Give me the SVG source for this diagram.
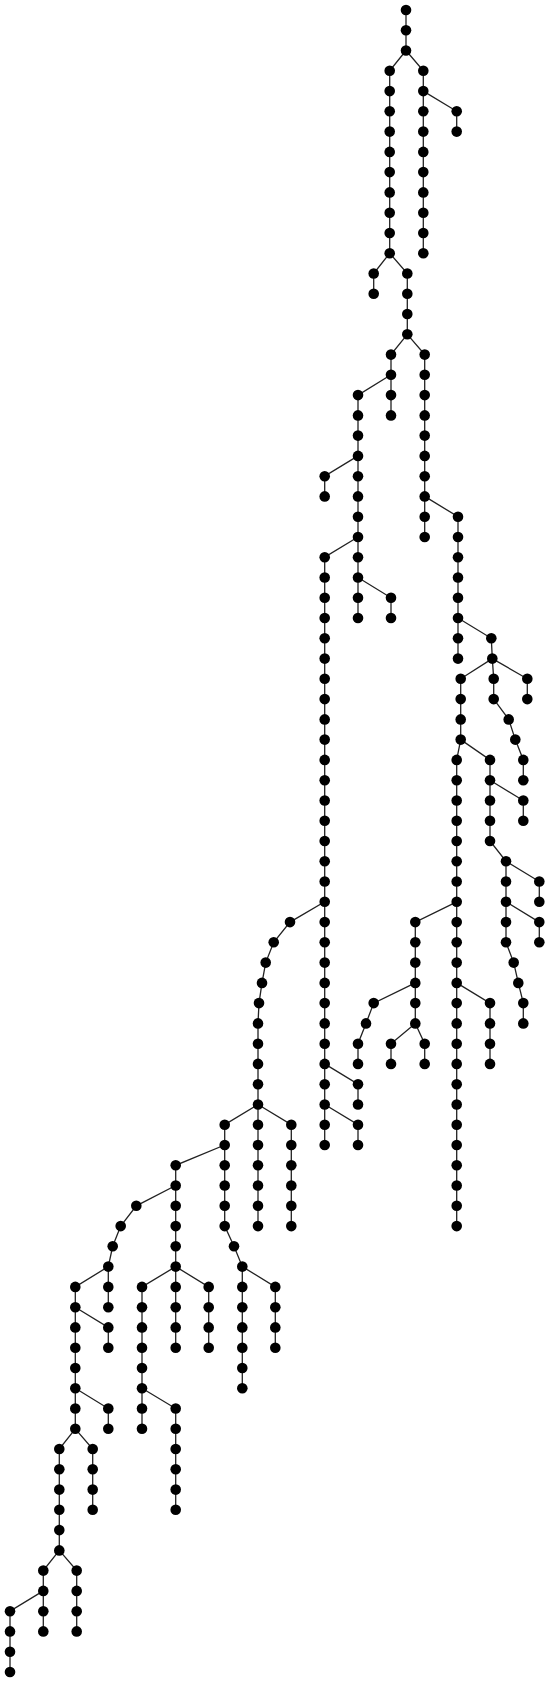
<svg xmlns="http://www.w3.org/2000/svg" width="550" height="1682" viewBox="0 0 550 1682">
<style>
.e path{fill:none;stroke:#222;stroke-width:1.3}
.n circle{fill:#000}
</style>
<rect width="550" height="1682" fill="#fff"/>
<g class="e" id="connectors">
<path d="M406 10 V50.5"/>
<path d="M406 50.5 L389.7 70.8 V253.2"/>
<path d="M406 50.5 L423.3 70.8 V253.2"/>
<path d="M423.3 91.1 L456.7 111.3 V131.6"/>
<path d="M389.7 253.2 L373.7 273.5 V293.8"/>
<path d="M389.7 253.2 L407.3 273.5 V334.3"/>
<path d="M407.3 334.3 L391 354.6 V415.4"/>
<path d="M391 374.8 L358 395.1 V618.0"/>
<path d="M358 455.9 L324.7 476.2 V496.4"/>
<path d="M358 537.0 L324.7 557.2 V1145.0"/>
<path d="M358 577.5 L391 597.8 V618.0"/>
<path d="M407.3 334.3 L424.7 354.6 V537.0"/>
<path d="M424.7 496.4 L458 516.7 V658.6"/>
<path d="M458 618.0 L491.3 638.3 L492.3 658.6"/>
<path d="M492.3 658.6 L527.3 678.8 V699.1"/>
<path d="M492.3 658.6 L493.7 678.8 L493.7 699.1 L508.7 719.4 L515.3 739.6 L523.3 759.9 V780.2"/>
<path d="M492.3 658.6 L460.7 678.8 V739.6"/>
<path d="M460.7 739.6 L456.7 759.9 V1226.1"/>
<path d="M460.7 739.6 L490 759.9 V841.0 L506 861.3 V942.3 L513.7 962.6 L518.3 982.9 L523.3 1003.1 V1023.4"/>
<path d="M490 780.2 L523.3 800.5 V820.7"/>
<path d="M506 861.3 L539.3 881.5 V901.8"/>
<path d="M506 901.8 L539.3 922.1 V942.3"/>
<path d="M456.7 901.8 L415.3 922.1 V1023.4"/>
<path d="M456.7 982.9 L490 1003.1 V1063.9"/>
<path d="M415.3 982.9 L373.7 1003.1 L366 1023.4 L358 1043.7 V1063.9"/>
<path d="M415.3 1023.4 L391 1043.7 V1063.9"/>
<path d="M415.3 1023.4 L424.7 1043.7 V1063.9"/>
<path d="M324.7 1063.9 L358 1084.2 V1104.5"/>
<path d="M324.7 1104.5 L358 1124.7 V1145.0"/>
<path d="M324.7 901.8 L290 922.1 L273.7 942.3 L265.7 962.6 L262 982.9 L259 1003.1 L258 1023.4 V1104.5"/>
<path d="M258 1104.5 L224.7 1124.7 V1226.1 L234 1246.3 L242.3 1266.6 V1388.2"/>
<path d="M258 1104.5 V1226.1"/>
<path d="M258 1104.5 L291.3 1124.7 V1226.1"/>
<path d="M242.3 1266.6 L275.3 1286.9 V1347.7"/>
<path d="M224.7 1145.0 L175.7 1165.3 V1347.7"/>
<path d="M175.7 1185.5 L136.3 1205.8 L120.7 1226.1 L112.7 1246.3 L108.3 1266.6 V1307.2"/>
<path d="M175.7 1266.6 L142 1286.9 V1428.8"/>
<path d="M175.7 1266.6 L208.7 1286.9 V1347.7"/>
<path d="M142 1388.2 L175.7 1408.5 V1509.8"/>
<path d="M108.3 1266.6 L75.3 1286.9 V1428.8"/>
<path d="M75.3 1307.2 L108.3 1327.4 V1347.7"/>
<path d="M75.3 1388.2 L108.3 1408.5 V1428.8"/>
<path d="M75.3 1428.8 L59.3 1449.0 V1550.4"/>
<path d="M75.3 1428.8 L92.7 1449.0 V1509.8"/>
<path d="M59.3 1550.4 L43.3 1570.6 V1631.4"/>
<path d="M59.3 1550.4 L76.7 1570.6 V1631.4"/>
<path d="M43.3 1590.9 L10 1611.2 V1672.0"/>
</g>
<g class="n" id="nodes">
<g id="A0"><circle cx="406" cy="10" r="5.3"/></g>
<g id="A1"><circle cx="406" cy="30.3" r="5.3"/></g>
<g id="A2"><circle cx="406" cy="50.5" r="5.3"/></g>
<g id="B3"><circle cx="389.7" cy="70.8" r="5.3"/></g>
<g id="B4"><circle cx="389.7" cy="91.1" r="5.3"/></g>
<g id="B5"><circle cx="389.7" cy="111.3" r="5.3"/></g>
<g id="B6"><circle cx="389.7" cy="131.6" r="5.3"/></g>
<g id="B7"><circle cx="389.7" cy="151.9" r="5.3"/></g>
<g id="B8"><circle cx="389.7" cy="172.1" r="5.3"/></g>
<g id="B9"><circle cx="389.7" cy="192.4" r="5.3"/></g>
<g id="B10"><circle cx="389.7" cy="212.7" r="5.3"/></g>
<g id="B11"><circle cx="389.7" cy="233.0" r="5.3"/></g>
<g id="B12"><circle cx="389.7" cy="253.2" r="5.3"/></g>
<g id="R3"><circle cx="423.3" cy="70.8" r="5.3"/></g>
<g id="R4"><circle cx="423.3" cy="91.1" r="5.3"/></g>
<g id="R5"><circle cx="423.3" cy="111.3" r="5.3"/></g>
<g id="R6"><circle cx="423.3" cy="131.6" r="5.3"/></g>
<g id="R7"><circle cx="423.3" cy="151.9" r="5.3"/></g>
<g id="R8"><circle cx="423.3" cy="172.1" r="5.3"/></g>
<g id="R9"><circle cx="423.3" cy="192.4" r="5.3"/></g>
<g id="R10"><circle cx="423.3" cy="212.7" r="5.3"/></g>
<g id="R11"><circle cx="423.3" cy="233.0" r="5.3"/></g>
<g id="R12"><circle cx="423.3" cy="253.2" r="5.3"/></g>
<g id="Ra5"><circle cx="456.7" cy="111.3" r="5.3"/></g>
<g id="Ra6"><circle cx="456.7" cy="131.6" r="5.3"/></g>
<g id="C1-13"><circle cx="373.7" cy="273.5" r="5.3"/></g>
<g id="C1-14"><circle cx="373.7" cy="293.8" r="5.3"/></g>
<g id="C2-13"><circle cx="407.3" cy="273.5" r="5.3"/></g>
<g id="C2-14"><circle cx="407.3" cy="293.8" r="5.3"/></g>
<g id="C2-15"><circle cx="407.3" cy="314.0" r="5.3"/></g>
<g id="C2-16"><circle cx="407.3" cy="334.3" r="5.3"/></g>
<g id="D1-17"><circle cx="391" cy="354.6" r="5.3"/></g>
<g id="D1-18"><circle cx="391" cy="374.8" r="5.3"/></g>
<g id="D1-19"><circle cx="391" cy="395.1" r="5.3"/></g>
<g id="D1-20"><circle cx="391" cy="415.4" r="5.3"/></g>
<g id="E19"><circle cx="358" cy="395.1" r="5.3"/></g>
<g id="E20"><circle cx="358" cy="415.4" r="5.3"/></g>
<g id="E21"><circle cx="358" cy="435.6" r="5.3"/></g>
<g id="E22"><circle cx="358" cy="455.9" r="5.3"/></g>
<g id="E23"><circle cx="358" cy="476.2" r="5.3"/></g>
<g id="E24"><circle cx="358" cy="496.4" r="5.3"/></g>
<g id="E25"><circle cx="358" cy="516.7" r="5.3"/></g>
<g id="E26"><circle cx="358" cy="537.0" r="5.3"/></g>
<g id="E27"><circle cx="358" cy="557.2" r="5.3"/></g>
<g id="E28"><circle cx="358" cy="577.5" r="5.3"/></g>
<g id="E29"><circle cx="358" cy="597.8" r="5.3"/></g>
<g id="E30"><circle cx="358" cy="618.0" r="5.3"/></g>
<g id="E1-23"><circle cx="324.7" cy="476.2" r="5.3"/></g>
<g id="E1-24"><circle cx="324.7" cy="496.4" r="5.3"/></g>
<g id="E2-29"><circle cx="391" cy="597.8" r="5.3"/></g>
<g id="E2-30"><circle cx="391" cy="618.0" r="5.3"/></g>
<g id="F27"><circle cx="324.7" cy="557.2" r="5.3"/></g>
<g id="F28"><circle cx="324.7" cy="577.5" r="5.3"/></g>
<g id="F29"><circle cx="324.7" cy="597.8" r="5.3"/></g>
<g id="F30"><circle cx="324.7" cy="618.0" r="5.3"/></g>
<g id="F31"><circle cx="324.7" cy="638.3" r="5.3"/></g>
<g id="F32"><circle cx="324.7" cy="658.6" r="5.3"/></g>
<g id="F33"><circle cx="324.7" cy="678.8" r="5.3"/></g>
<g id="F34"><circle cx="324.7" cy="699.1" r="5.3"/></g>
<g id="F35"><circle cx="324.7" cy="719.4" r="5.3"/></g>
<g id="F36"><circle cx="324.7" cy="739.6" r="5.3"/></g>
<g id="F37"><circle cx="324.7" cy="759.9" r="5.3"/></g>
<g id="F38"><circle cx="324.7" cy="780.2" r="5.3"/></g>
<g id="F39"><circle cx="324.7" cy="800.5" r="5.3"/></g>
<g id="F40"><circle cx="324.7" cy="820.7" r="5.3"/></g>
<g id="F41"><circle cx="324.7" cy="841.0" r="5.3"/></g>
<g id="F42"><circle cx="324.7" cy="861.3" r="5.3"/></g>
<g id="F43"><circle cx="324.7" cy="881.5" r="5.3"/></g>
<g id="F44"><circle cx="324.7" cy="901.8" r="5.3"/></g>
<g id="F45"><circle cx="324.7" cy="922.1" r="5.3"/></g>
<g id="F46"><circle cx="324.7" cy="942.3" r="5.3"/></g>
<g id="F47"><circle cx="324.7" cy="962.6" r="5.3"/></g>
<g id="F48"><circle cx="324.7" cy="982.9" r="5.3"/></g>
<g id="F49"><circle cx="324.7" cy="1003.1" r="5.3"/></g>
<g id="F50"><circle cx="324.7" cy="1023.4" r="5.3"/></g>
<g id="F51"><circle cx="324.7" cy="1043.7" r="5.3"/></g>
<g id="F52"><circle cx="324.7" cy="1063.9" r="5.3"/></g>
<g id="F53"><circle cx="324.7" cy="1084.2" r="5.3"/></g>
<g id="F54"><circle cx="324.7" cy="1104.5" r="5.3"/></g>
<g id="F55"><circle cx="324.7" cy="1124.7" r="5.3"/></g>
<g id="F56"><circle cx="324.7" cy="1145.0" r="5.3"/></g>
<g id="D2-17"><circle cx="424.7" cy="354.6" r="5.3"/></g>
<g id="D2-18"><circle cx="424.7" cy="374.8" r="5.3"/></g>
<g id="D2-19"><circle cx="424.7" cy="395.1" r="5.3"/></g>
<g id="D2-20"><circle cx="424.7" cy="415.4" r="5.3"/></g>
<g id="D2-21"><circle cx="424.7" cy="435.6" r="5.3"/></g>
<g id="D2-22"><circle cx="424.7" cy="455.9" r="5.3"/></g>
<g id="D2-23"><circle cx="424.7" cy="476.2" r="5.3"/></g>
<g id="D2-24"><circle cx="424.7" cy="496.4" r="5.3"/></g>
<g id="D2-25"><circle cx="424.7" cy="516.7" r="5.3"/></g>
<g id="D2-26"><circle cx="424.7" cy="537.0" r="5.3"/></g>
<g id="H25"><circle cx="458" cy="516.7" r="5.3"/></g>
<g id="H26"><circle cx="458" cy="537.0" r="5.3"/></g>
<g id="H27"><circle cx="458" cy="557.2" r="5.3"/></g>
<g id="H28"><circle cx="458" cy="577.5" r="5.3"/></g>
<g id="H29"><circle cx="458" cy="597.8" r="5.3"/></g>
<g id="H30"><circle cx="458" cy="618.0" r="5.3"/></g>
<g id="H31"><circle cx="458" cy="638.3" r="5.3"/></g>
<g id="H32"><circle cx="458" cy="658.6" r="5.3"/></g>
<g id="I31"><circle cx="491.3" cy="638.3" r="5.3"/></g>
<g id="I32"><circle cx="492.3" cy="658.6" r="5.3"/></g>
<g id="I1-33"><circle cx="527.3" cy="678.8" r="5.3"/></g>
<g id="I1-34"><circle cx="527.3" cy="699.1" r="5.3"/></g>
<g id="I2-33"><circle cx="493.7" cy="678.8" r="5.3"/></g>
<g id="I2-34"><circle cx="493.7" cy="699.1" r="5.3"/></g>
<g id="I2-35"><circle cx="508.7" cy="719.4" r="5.3"/></g>
<g id="I2-36"><circle cx="515.3" cy="739.6" r="5.3"/></g>
<g id="I2-37"><circle cx="523.3" cy="759.9" r="5.3"/></g>
<g id="I2-38"><circle cx="523.3" cy="780.2" r="5.3"/></g>
<g id="J33"><circle cx="460.7" cy="678.8" r="5.3"/></g>
<g id="J34"><circle cx="460.7" cy="699.1" r="5.3"/></g>
<g id="J35"><circle cx="460.7" cy="719.4" r="5.3"/></g>
<g id="J36"><circle cx="460.7" cy="739.6" r="5.3"/></g>
<g id="K37"><circle cx="456.7" cy="759.9" r="5.3"/></g>
<g id="K38"><circle cx="456.7" cy="780.2" r="5.3"/></g>
<g id="K39"><circle cx="456.7" cy="800.5" r="5.3"/></g>
<g id="K40"><circle cx="456.7" cy="820.7" r="5.3"/></g>
<g id="K41"><circle cx="456.7" cy="841.0" r="5.3"/></g>
<g id="K42"><circle cx="456.7" cy="861.3" r="5.3"/></g>
<g id="K43"><circle cx="456.7" cy="881.5" r="5.3"/></g>
<g id="K44"><circle cx="456.7" cy="901.8" r="5.3"/></g>
<g id="K45"><circle cx="456.7" cy="922.1" r="5.3"/></g>
<g id="K46"><circle cx="456.7" cy="942.3" r="5.3"/></g>
<g id="K47"><circle cx="456.7" cy="962.6" r="5.3"/></g>
<g id="K48"><circle cx="456.7" cy="982.9" r="5.3"/></g>
<g id="K49"><circle cx="456.7" cy="1003.1" r="5.3"/></g>
<g id="K50"><circle cx="456.7" cy="1023.4" r="5.3"/></g>
<g id="K51"><circle cx="456.7" cy="1043.7" r="5.3"/></g>
<g id="K52"><circle cx="456.7" cy="1063.9" r="5.3"/></g>
<g id="K53"><circle cx="456.7" cy="1084.2" r="5.3"/></g>
<g id="K54"><circle cx="456.7" cy="1104.5" r="5.3"/></g>
<g id="K55"><circle cx="456.7" cy="1124.7" r="5.3"/></g>
<g id="K56"><circle cx="456.7" cy="1145.0" r="5.3"/></g>
<g id="K57"><circle cx="456.7" cy="1165.3" r="5.3"/></g>
<g id="K58"><circle cx="456.7" cy="1185.5" r="5.3"/></g>
<g id="K59"><circle cx="456.7" cy="1205.8" r="5.3"/></g>
<g id="K60"><circle cx="456.7" cy="1226.1" r="5.3"/></g>
<g id="L37"><circle cx="490" cy="759.9" r="5.3"/></g>
<g id="L38"><circle cx="490" cy="780.2" r="5.3"/></g>
<g id="L39"><circle cx="490" cy="800.5" r="5.3"/></g>
<g id="L40"><circle cx="490" cy="820.7" r="5.3"/></g>
<g id="L41"><circle cx="490" cy="841.0" r="5.3"/></g>
<g id="L42"><circle cx="506" cy="861.3" r="5.3"/></g>
<g id="L43"><circle cx="506" cy="881.5" r="5.3"/></g>
<g id="L44"><circle cx="506" cy="901.8" r="5.3"/></g>
<g id="L45"><circle cx="506" cy="922.1" r="5.3"/></g>
<g id="L46"><circle cx="506" cy="942.3" r="5.3"/></g>
<g id="L47"><circle cx="513.7" cy="962.6" r="5.3"/></g>
<g id="L48"><circle cx="518.3" cy="982.9" r="5.3"/></g>
<g id="L49"><circle cx="523.3" cy="1003.1" r="5.3"/></g>
<g id="L50"><circle cx="523.3" cy="1023.4" r="5.3"/></g>
<g id="L1-39"><circle cx="523.3" cy="800.5" r="5.3"/></g>
<g id="L1-40"><circle cx="523.3" cy="820.7" r="5.3"/></g>
<g id="L2-43"><circle cx="539.3" cy="881.5" r="5.3"/></g>
<g id="L2-44"><circle cx="539.3" cy="901.8" r="5.3"/></g>
<g id="L3-45"><circle cx="539.3" cy="922.1" r="5.3"/></g>
<g id="L3-46"><circle cx="539.3" cy="942.3" r="5.3"/></g>
<g id="K1-45"><circle cx="415.3" cy="922.1" r="5.3"/></g>
<g id="K1-46"><circle cx="415.3" cy="942.3" r="5.3"/></g>
<g id="K1-47"><circle cx="415.3" cy="962.6" r="5.3"/></g>
<g id="K1-48"><circle cx="415.3" cy="982.9" r="5.3"/></g>
<g id="K1-49"><circle cx="415.3" cy="1003.1" r="5.3"/></g>
<g id="K1-50"><circle cx="415.3" cy="1023.4" r="5.3"/></g>
<g id="K2-49"><circle cx="490" cy="1003.1" r="5.3"/></g>
<g id="K2-50"><circle cx="490" cy="1023.4" r="5.3"/></g>
<g id="K2-51"><circle cx="490" cy="1043.7" r="5.3"/></g>
<g id="K2-52"><circle cx="490" cy="1063.9" r="5.3"/></g>
<g id="K1a-49"><circle cx="373.7" cy="1003.1" r="5.3"/></g>
<g id="K1a-50"><circle cx="366" cy="1023.4" r="5.3"/></g>
<g id="K1a-51"><circle cx="358" cy="1043.7" r="5.3"/></g>
<g id="K1a-52"><circle cx="358" cy="1063.9" r="5.3"/></g>
<g id="K1b-51"><circle cx="391" cy="1043.7" r="5.3"/></g>
<g id="K1b-52"><circle cx="391" cy="1063.9" r="5.3"/></g>
<g id="K1c-51"><circle cx="424.7" cy="1043.7" r="5.3"/></g>
<g id="K1c-52"><circle cx="424.7" cy="1063.9" r="5.3"/></g>
<g id="F1-53"><circle cx="358" cy="1084.2" r="5.3"/></g>
<g id="F1-54"><circle cx="358" cy="1104.5" r="5.3"/></g>
<g id="F2-55"><circle cx="358" cy="1124.7" r="5.3"/></g>
<g id="F2-56"><circle cx="358" cy="1145.0" r="5.3"/></g>
<g id="G45"><circle cx="290" cy="922.1" r="5.3"/></g>
<g id="G46"><circle cx="273.7" cy="942.3" r="5.3"/></g>
<g id="G47"><circle cx="265.7" cy="962.6" r="5.3"/></g>
<g id="G48"><circle cx="262" cy="982.9" r="5.3"/></g>
<g id="G49"><circle cx="259" cy="1003.1" r="5.3"/></g>
<g id="G50"><circle cx="258" cy="1023.4" r="5.3"/></g>
<g id="G51"><circle cx="258" cy="1043.7" r="5.3"/></g>
<g id="G52"><circle cx="258" cy="1063.9" r="5.3"/></g>
<g id="G53"><circle cx="258" cy="1084.2" r="5.3"/></g>
<g id="G54"><circle cx="258" cy="1104.5" r="5.3"/></g>
<g id="G1-55"><circle cx="224.7" cy="1124.7" r="5.3"/></g>
<g id="G1-56"><circle cx="224.7" cy="1145.0" r="5.3"/></g>
<g id="G1-57"><circle cx="224.7" cy="1165.3" r="5.3"/></g>
<g id="G1-58"><circle cx="224.7" cy="1185.5" r="5.3"/></g>
<g id="G1-59"><circle cx="224.7" cy="1205.8" r="5.3"/></g>
<g id="G1-60"><circle cx="224.7" cy="1226.1" r="5.3"/></g>
<g id="G1-61"><circle cx="234" cy="1246.3" r="5.3"/></g>
<g id="G1-62"><circle cx="242.3" cy="1266.6" r="5.3"/></g>
<g id="G1-63"><circle cx="242.3" cy="1286.9" r="5.3"/></g>
<g id="G1-64"><circle cx="242.3" cy="1307.2" r="5.3"/></g>
<g id="G1-65"><circle cx="242.3" cy="1327.4" r="5.3"/></g>
<g id="G1-66"><circle cx="242.3" cy="1347.7" r="5.3"/></g>
<g id="G1-67"><circle cx="242.3" cy="1368.0" r="5.3"/></g>
<g id="G1-68"><circle cx="242.3" cy="1388.2" r="5.3"/></g>
<g id="G2-55"><circle cx="258" cy="1124.7" r="5.3"/></g>
<g id="G2-56"><circle cx="258" cy="1145.0" r="5.3"/></g>
<g id="G2-57"><circle cx="258" cy="1165.3" r="5.3"/></g>
<g id="G2-58"><circle cx="258" cy="1185.5" r="5.3"/></g>
<g id="G2-59"><circle cx="258" cy="1205.8" r="5.3"/></g>
<g id="G2-60"><circle cx="258" cy="1226.1" r="5.3"/></g>
<g id="G3-55"><circle cx="291.3" cy="1124.7" r="5.3"/></g>
<g id="G3-56"><circle cx="291.3" cy="1145.0" r="5.3"/></g>
<g id="G3-57"><circle cx="291.3" cy="1165.3" r="5.3"/></g>
<g id="G3-58"><circle cx="291.3" cy="1185.5" r="5.3"/></g>
<g id="G3-59"><circle cx="291.3" cy="1205.8" r="5.3"/></g>
<g id="G3-60"><circle cx="291.3" cy="1226.1" r="5.3"/></g>
<g id="G1a-63"><circle cx="275.3" cy="1286.9" r="5.3"/></g>
<g id="G1a-64"><circle cx="275.3" cy="1307.2" r="5.3"/></g>
<g id="G1a-65"><circle cx="275.3" cy="1327.4" r="5.3"/></g>
<g id="G1a-66"><circle cx="275.3" cy="1347.7" r="5.3"/></g>
<g id="M57"><circle cx="175.7" cy="1165.3" r="5.3"/></g>
<g id="M58"><circle cx="175.7" cy="1185.5" r="5.3"/></g>
<g id="M59"><circle cx="175.7" cy="1205.8" r="5.3"/></g>
<g id="M60"><circle cx="175.7" cy="1226.1" r="5.3"/></g>
<g id="M61"><circle cx="175.7" cy="1246.3" r="5.3"/></g>
<g id="M62"><circle cx="175.7" cy="1266.6" r="5.3"/></g>
<g id="M63"><circle cx="175.7" cy="1286.9" r="5.3"/></g>
<g id="M64"><circle cx="175.7" cy="1307.2" r="5.3"/></g>
<g id="M65"><circle cx="175.7" cy="1327.4" r="5.3"/></g>
<g id="M66"><circle cx="175.7" cy="1347.7" r="5.3"/></g>
<g id="M1-59"><circle cx="136.3" cy="1205.8" r="5.3"/></g>
<g id="M1-60"><circle cx="120.7" cy="1226.1" r="5.3"/></g>
<g id="M1-61"><circle cx="112.7" cy="1246.3" r="5.3"/></g>
<g id="M1-62"><circle cx="108.3" cy="1266.6" r="5.3"/></g>
<g id="M1-63"><circle cx="108.3" cy="1286.9" r="5.3"/></g>
<g id="M1-64"><circle cx="108.3" cy="1307.2" r="5.3"/></g>
<g id="M2-63"><circle cx="142" cy="1286.9" r="5.3"/></g>
<g id="M2-64"><circle cx="142" cy="1307.2" r="5.3"/></g>
<g id="M2-65"><circle cx="142" cy="1327.4" r="5.3"/></g>
<g id="M2-66"><circle cx="142" cy="1347.7" r="5.3"/></g>
<g id="M2-67"><circle cx="142" cy="1368.0" r="5.3"/></g>
<g id="M2-68"><circle cx="142" cy="1388.2" r="5.3"/></g>
<g id="M2-69"><circle cx="142" cy="1408.5" r="5.3"/></g>
<g id="M2-70"><circle cx="142" cy="1428.8" r="5.3"/></g>
<g id="M3-63"><circle cx="208.7" cy="1286.9" r="5.3"/></g>
<g id="M3-64"><circle cx="208.7" cy="1307.2" r="5.3"/></g>
<g id="M3-65"><circle cx="208.7" cy="1327.4" r="5.3"/></g>
<g id="M3-66"><circle cx="208.7" cy="1347.7" r="5.3"/></g>
<g id="M2a-69"><circle cx="175.7" cy="1408.5" r="5.3"/></g>
<g id="M2a-70"><circle cx="175.7" cy="1428.8" r="5.3"/></g>
<g id="M2a-71"><circle cx="175.7" cy="1449.0" r="5.3"/></g>
<g id="M2a-72"><circle cx="175.7" cy="1469.3" r="5.3"/></g>
<g id="M2a-73"><circle cx="175.7" cy="1489.6" r="5.3"/></g>
<g id="M2a-74"><circle cx="175.7" cy="1509.8" r="5.3"/></g>
<g id="N63"><circle cx="75.3" cy="1286.9" r="5.3"/></g>
<g id="N64"><circle cx="75.3" cy="1307.2" r="5.3"/></g>
<g id="N65"><circle cx="75.3" cy="1327.4" r="5.3"/></g>
<g id="N66"><circle cx="75.3" cy="1347.7" r="5.3"/></g>
<g id="N67"><circle cx="75.3" cy="1368.0" r="5.3"/></g>
<g id="N68"><circle cx="75.3" cy="1388.2" r="5.3"/></g>
<g id="N69"><circle cx="75.3" cy="1408.5" r="5.3"/></g>
<g id="N70"><circle cx="75.3" cy="1428.8" r="5.3"/></g>
<g id="N1-65"><circle cx="108.3" cy="1327.4" r="5.3"/></g>
<g id="N1-66"><circle cx="108.3" cy="1347.7" r="5.3"/></g>
<g id="N2-69"><circle cx="108.3" cy="1408.5" r="5.3"/></g>
<g id="N2-70"><circle cx="108.3" cy="1428.8" r="5.3"/></g>
<g id="O71"><circle cx="59.3" cy="1449.0" r="5.3"/></g>
<g id="O72"><circle cx="59.3" cy="1469.3" r="5.3"/></g>
<g id="O73"><circle cx="59.3" cy="1489.6" r="5.3"/></g>
<g id="O74"><circle cx="59.3" cy="1509.8" r="5.3"/></g>
<g id="O75"><circle cx="59.3" cy="1530.1" r="5.3"/></g>
<g id="O76"><circle cx="59.3" cy="1550.4" r="5.3"/></g>
<g id="O2-71"><circle cx="92.7" cy="1449.0" r="5.3"/></g>
<g id="O2-72"><circle cx="92.7" cy="1469.3" r="5.3"/></g>
<g id="O2-73"><circle cx="92.7" cy="1489.6" r="5.3"/></g>
<g id="O2-74"><circle cx="92.7" cy="1509.8" r="5.3"/></g>
<g id="P1-77"><circle cx="43.3" cy="1570.6" r="5.3"/></g>
<g id="P1-78"><circle cx="43.3" cy="1590.9" r="5.3"/></g>
<g id="P1-79"><circle cx="43.3" cy="1611.2" r="5.3"/></g>
<g id="P1-80"><circle cx="43.3" cy="1631.4" r="5.3"/></g>
<g id="P2-77"><circle cx="76.7" cy="1570.6" r="5.3"/></g>
<g id="P2-78"><circle cx="76.7" cy="1590.9" r="5.3"/></g>
<g id="P2-79"><circle cx="76.7" cy="1611.2" r="5.3"/></g>
<g id="P2-80"><circle cx="76.7" cy="1631.4" r="5.3"/></g>
<g id="P1a-79"><circle cx="10" cy="1611.2" r="5.3"/></g>
<g id="P1a-80"><circle cx="10" cy="1631.4" r="5.3"/></g>
<g id="P1a-81"><circle cx="10" cy="1651.7" r="5.3"/></g>
<g id="P1a-82"><circle cx="10" cy="1672.0" r="5.3"/></g>
</g>
</svg>
